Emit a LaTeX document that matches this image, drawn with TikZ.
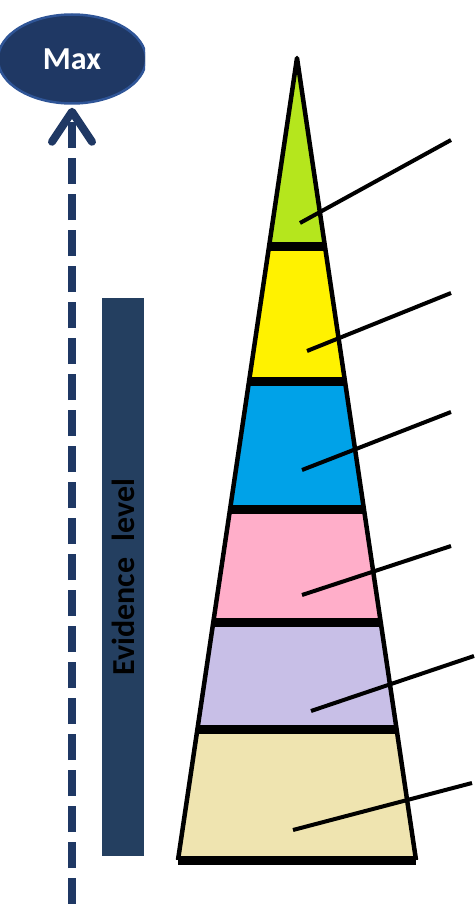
\documentclass[tikz,border=0pt]{standalone}
\usepackage{fontspec}
\newfontfamily\calfont{Carlito}
\usetikzlibrary{arrows.meta}
\usetikzlibrary{calc}
\usetikzlibrary{shapes}

\definecolor{navy}{RGB}{31,56,100}
\definecolor{navyrim}{RGB}{47,85,151}
\definecolor{barblue}{RGB}{36,63,96}
\definecolor{lime}{RGB}{181,230,29}
\definecolor{paintyellow}{RGB}{255,242,0}
\definecolor{paintblue}{RGB}{0,162,232}
\definecolor{paintpink}{RGB}{255,174,201}
\definecolor{lavender}{RGB}{200,191,231}
\definecolor{cream}{RGB}{239,228,176}

\begin{document}
\begin{tikzpicture}[x=1pt,y=-1pt,
    maxnode/.style={ellipse, fill=navy, draw=navyrim, line width=2.5pt,
      minimum width=148pt, minimum height=89pt, inner sep=0pt, text=white,
      font=\calfont\bfseries\fontsize{32}{32}\selectfont},
    evbar/.style={rectangle, fill=barblue, rotate=90, minimum width=558pt,
      minimum height=42pt, inner sep=0pt, text=black,
      font=\calfont\bfseries\fontsize{32}{32}\selectfont},
    evarrow/.style={navy, line width=8pt, dash pattern=on 26pt off 10pt,
      -{Straight Barb[length=30pt,width=40pt,line width=8pt,round]}, shorten >=3pt},
    sepline/.style={line width=9pt},
    edge/.style={line width=4.5pt, line join=round},
    leader/.style={line width=4pt}]
  \useasboundingbox (0,0) rectangle (474,904);

  % the pyramid
  \def\pyrh{802}
  \coordinate (apex) at (297,58);
  \coordinate (bl) at (178,860);
  \coordinate (br) at (416,860);
  \foreach \ya/\yb/\col in {58/246/lime, 246/382/paintyellow, 382/509/paintblue,
      509/622/paintpink, 622/730/lavender, 730/860/cream}
    \fill[\col] ($(apex)!{(\ya-58)/\pyrh}!(bl)$) -- ($(apex)!{(\ya-58)/\pyrh}!(br)$)
      -- ($(apex)!{(\yb-58)/\pyrh}!(br)$) -- ($(apex)!{(\yb-58)/\pyrh}!(bl)$) -- cycle;
  \foreach \y in {246.5, 382, 509.5, 622.5, 730, 860}
    \draw[sepline] ($(apex)!{(\y-58)/\pyrh}!(bl)$) -- ($(apex)!{(\y-58)/\pyrh}!(br)$);
  \draw[edge] (bl) -- (apex) -- (br);

  % leader lines
  \foreach \xa/\ya/\xb/\yb [count=\i] in {300/223/451/140, 307/351/451/293,
      302/470/451/412, 302/595/451/546, 311/711/474/656, 293/830/472/783} {
    \coordinate (in\i) at (\xa,\ya);
    \coordinate (out\i) at (\xb,\yb);
    \draw[leader] (in\i) -- (out\i);
  }

  % max and the axis
  \begin{scope}
    \clip (0,0) rectangle (145,120);
    \node[maxnode] (max) at (72,59) {Max};
  \end{scope}
  \coordinate (base) at (72,904);
  \draw[evarrow] (base) -- (max.south);

  \node[evbar] (level) at (123,577) {Evidence\hspace{0.3em} level};
\end{tikzpicture}
\end{document}
